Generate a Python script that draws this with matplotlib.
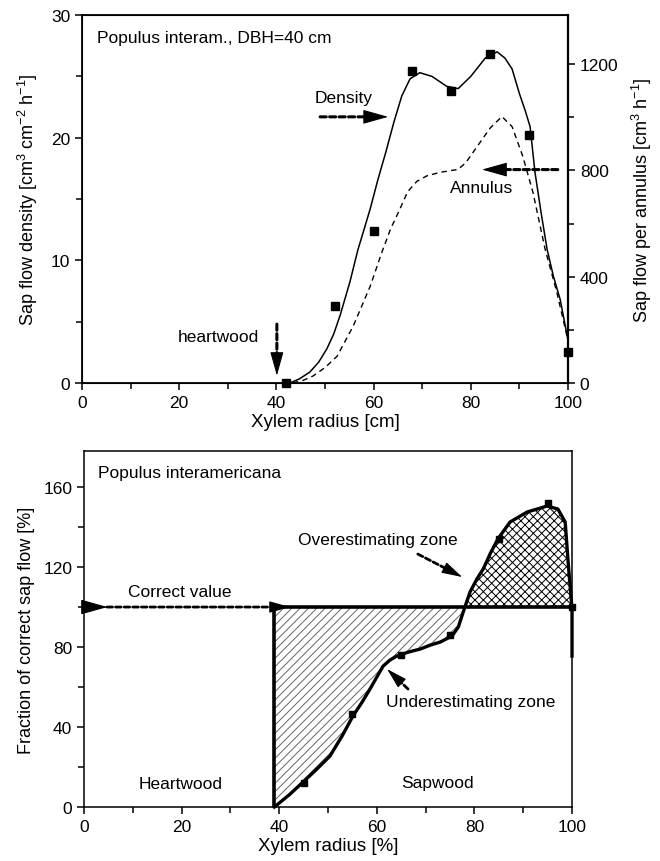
import matplotlib
matplotlib.use('Agg')
import numpy as np
import matplotlib.pyplot as plt
from matplotlib.ticker import MultipleLocator

plt.rcParams['font.family'] = ['Liberation Sans', 'DejaVu Sans']
plt.rcParams['mathtext.default'] = 'regular'
plt.rcParams['hatch.linewidth'] = 0.7

# --- top panel: sap flow vs xylem radius (cm) ---
meas_x = [42, 52, 60, 68, 76, 84, 92, 100]
meas_density = [0, 6.3, 12.4, 25.4, 23.8, 26.8, 20.2, 2.5]

dens_x = [42.8, 44.8, 46.9, 48.7, 50.4, 51.8, 53.1, 55.1, 56.8, 58.1, 59.3, 60.9, 62.5,
          64.2, 65.8, 67.5, 69.5, 72, 75, 77.4, 80, 83, 85.4, 87, 88.5, 90, 91.2,
          92.2, 93.2, 94.5, 95.7, 97, 98.4, 100]
dens_y = [0, 0.35, 0.9, 1.7, 2.8, 4.0, 5.5, 8.2, 10.9, 12.6, 14.2, 16.6, 18.8,
          21.3, 23.4, 24.8, 25.3, 25.0, 24.2, 24.0, 25.0, 26.5, 27.0, 26.5, 25.6,
          23.6, 22.2, 20.9, 17.2, 13.8, 10.9, 8.7, 6.8, 3.5]

ann_x = [43.4, 45.5, 47.5, 50, 52.5, 55.8, 59.3, 61.7, 63.5, 65.4, 67, 68.9, 71, 73.7,
         77.4, 79, 81.3, 84, 86.4, 88.5, 90.7, 92.8, 95.3, 97.7, 100]
ann_y = [0, 10, 26, 58, 101, 214, 364, 492, 580, 654, 720, 759, 780, 793,
         804, 830, 890, 960, 1003, 965, 853, 717, 503, 342, 160]

# --- bottom panel: fraction of correct sap flow vs xylem radius (%) ---
frac_x = [39, 42, 44.9, 47.5, 50.4, 53, 55.1, 57, 58.6, 60, 61.3, 62.7, 64.1, 66.5,
          68.9, 71, 73, 75.4, 76.7, 77.7, 79.1, 80.5, 81.8, 83.3, 84.8, 87.3, 90.8,
          94.9, 97.1, 98.6, 99.2, 100, 100]
frac_y = [0, 6, 12.5, 18.5, 25.5, 36, 45.5, 52.5, 59, 65, 70.5, 73.5, 75.5, 77.5,
          79, 81, 82.5, 85.5, 90, 97.5, 107.5, 114, 119, 127, 134, 142.5, 147.5,
          150.5, 149, 142.5, 122.5, 99, 75.5]
frac_pts_x = [45, 55, 65, 75, 85, 95, 100]
frac_pts_y = [12, 46.5, 76, 86, 134, 152, 100]
correct_value = 100
sapwood_start = 39


def dashed_arrow(ax, start, tip, head_len=16, head_w=0.28, lw=2.2, shaft=True):
    # dashed shaft + solid filled head, head length in points
    p0 = ax.transData.transform(start)
    p1 = ax.transData.transform(tip)
    d = (p1 - p0) / np.hypot(*(p1 - p0))
    base_px = p1 - d * head_len * fig.dpi / 72.0
    base = ax.transData.inverted().transform(base_px)
    if shaft:
        ax.annotate('', xy=base, xytext=start, annotation_clip=False,
                    arrowprops=dict(arrowstyle='-', lw=lw, ls=(0, (2, 1.1)),
                                    color='k', shrinkA=0, shrinkB=0))
    ax.annotate('', xy=tip, xytext=base, annotation_clip=False,
                arrowprops=dict(arrowstyle='-|>,head_length=1.0,head_width=%g' % head_w,
                                lw=0.8, color='k', mutation_scale=head_len,
                                shrinkA=0, shrinkB=0))


fig = plt.figure(figsize=(6.6, 8.62), dpi=100)

tick_kw = dict(direction='out', labelsize=12.5, width=1.1)
txt = 12.5

# ---------------- top ----------------
ax = fig.add_axes([0.1242, 0.5545, 0.7364, 0.4269])
ax.plot(dens_x, dens_y, color='k', lw=1.1)
ax.plot(meas_x, meas_density, 's', color='k', ms=6, clip_on=False)
ax.set_xlim(0, 100)
ax.set_ylim(0, 30)
ax.xaxis.set_major_locator(MultipleLocator(20))
ax.xaxis.set_minor_locator(MultipleLocator(10))
ax.yaxis.set_major_locator(MultipleLocator(10))
ax.yaxis.set_minor_locator(MultipleLocator(5))
ax.tick_params(which='major', length=5, **tick_kw)
ax.tick_params(which='minor', length=4, direction='out', width=1.1)
ax.set_xlabel('Xylem radius [cm]', fontsize=13.5, labelpad=2)
ax.set_ylabel('Sap flow density [cm$^3$ cm$^{-2}$ h$^{-1}$]', fontsize=13, labelpad=8)
for s in ax.spines.values():
    s.set_linewidth(1.3)

ax2 = ax.twinx()
ax2.plot(ann_x, ann_y, color='k', lw=1.0, ls=(0, (4, 3)))
ax2.set_ylim(0, 1385)
ax2.yaxis.set_major_locator(MultipleLocator(400))
ax2.yaxis.set_minor_locator(MultipleLocator(200))
ax2.tick_params(which='major', length=5, **tick_kw)
ax2.tick_params(which='minor', length=4, direction='out', width=1.1)
ax2.set_ylabel('Sap flow per annulus [cm$^3$ h$^{-1}$]', fontsize=13, labelpad=8)
ax2.spines['right'].set_linewidth(1.6)

ax.text(3.1, 28.2, 'Populus interam., DBH=40 cm', fontsize=txt, ha='left', va='center')
ax.text(53.9, 23.3, 'Density', fontsize=txt, ha='center', va='center')
ax.text(82.3, 15.9, 'Annulus', fontsize=txt, ha='center', va='center')
ax.text(28.0, 3.8, 'heartwood', fontsize=txt, ha='center', va='center')

dashed_arrow(ax, (49.0, 21.7), (63.0, 21.7))
dashed_arrow(ax, (97.9, 17.4), (82.3, 17.4))
dashed_arrow(ax, (40.1, 4.8), (40.1, 0.6), head_len=15)

# ---------------- bottom ----------------
bx = fig.add_axes([0.1273, 0.0626, 0.7394, 0.4130])
bx.fill_between(frac_x, frac_y, correct_value,
                where=[v <= correct_value for v in frac_y], interpolate=True,
                facecolor='white', edgecolor='0.4', hatch='////', lw=0)
bx.fill_between(frac_x, frac_y, correct_value,
                where=[v >= correct_value for v in frac_y], interpolate=True,
                facecolor='white', edgecolor='k', hatch='xxxx', lw=0)
bx.plot([sapwood_start, 100], [correct_value, correct_value], color='k', lw=2.6)
bx.plot([sapwood_start, sapwood_start], [0, correct_value], color='k', lw=2.6)
bx.plot(frac_x, frac_y, color='k', lw=2.4, clip_on=False)
bx.plot(frac_pts_x, frac_pts_y, 's', color='k', ms=5, clip_on=False)
bx.set_xlim(0, 100)
bx.set_ylim(0, 178)
bx.xaxis.set_major_locator(MultipleLocator(20))
bx.xaxis.set_minor_locator(MultipleLocator(10))
bx.yaxis.set_major_locator(MultipleLocator(40))
bx.yaxis.set_minor_locator(MultipleLocator(20))
bx.tick_params(which='major', length=5, **tick_kw)
bx.tick_params(which='minor', length=4, direction='out', width=1.1)
bx.set_xlabel('Xylem radius [%]', fontsize=13.5, labelpad=2)
bx.set_ylabel('Fraction of correct sap flow [%]', fontsize=13, labelpad=6)
for s in bx.spines.values():
    s.set_linewidth(1.1)

bx.text(2.9, 167.5, 'Populus interamericana', fontsize=txt, ha='left', va='center')
bx.text(19.7, 108, 'Correct value', fontsize=txt, ha='center', va='center')
bx.text(60.2, 134, 'Overestimating zone', fontsize=txt, ha='center', va='center')
bx.text(79.3, 53, 'Underestimating zone', fontsize=txt, ha='center', va='center')
bx.text(19.7, 12, 'Heartwood', fontsize=txt, ha='center', va='center')
bx.text(72.5, 12.5, 'Sapwood', fontsize=txt, ha='center', va='center')

dashed_arrow(bx, (4.7, correct_value), (42.2, correct_value), head_len=13, lw=2.0)
dashed_arrow(bx, (0, correct_value), (4.8, correct_value), head_len=17, shaft=False)
dashed_arrow(bx, (68.4, 126.5), (77.5, 115), head_len=13, lw=2.0)
dashed_arrow(bx, (66.4, 59), (62.1, 69), head_len=13, lw=2.0)

fig.savefig('out.png', dpi=100)
